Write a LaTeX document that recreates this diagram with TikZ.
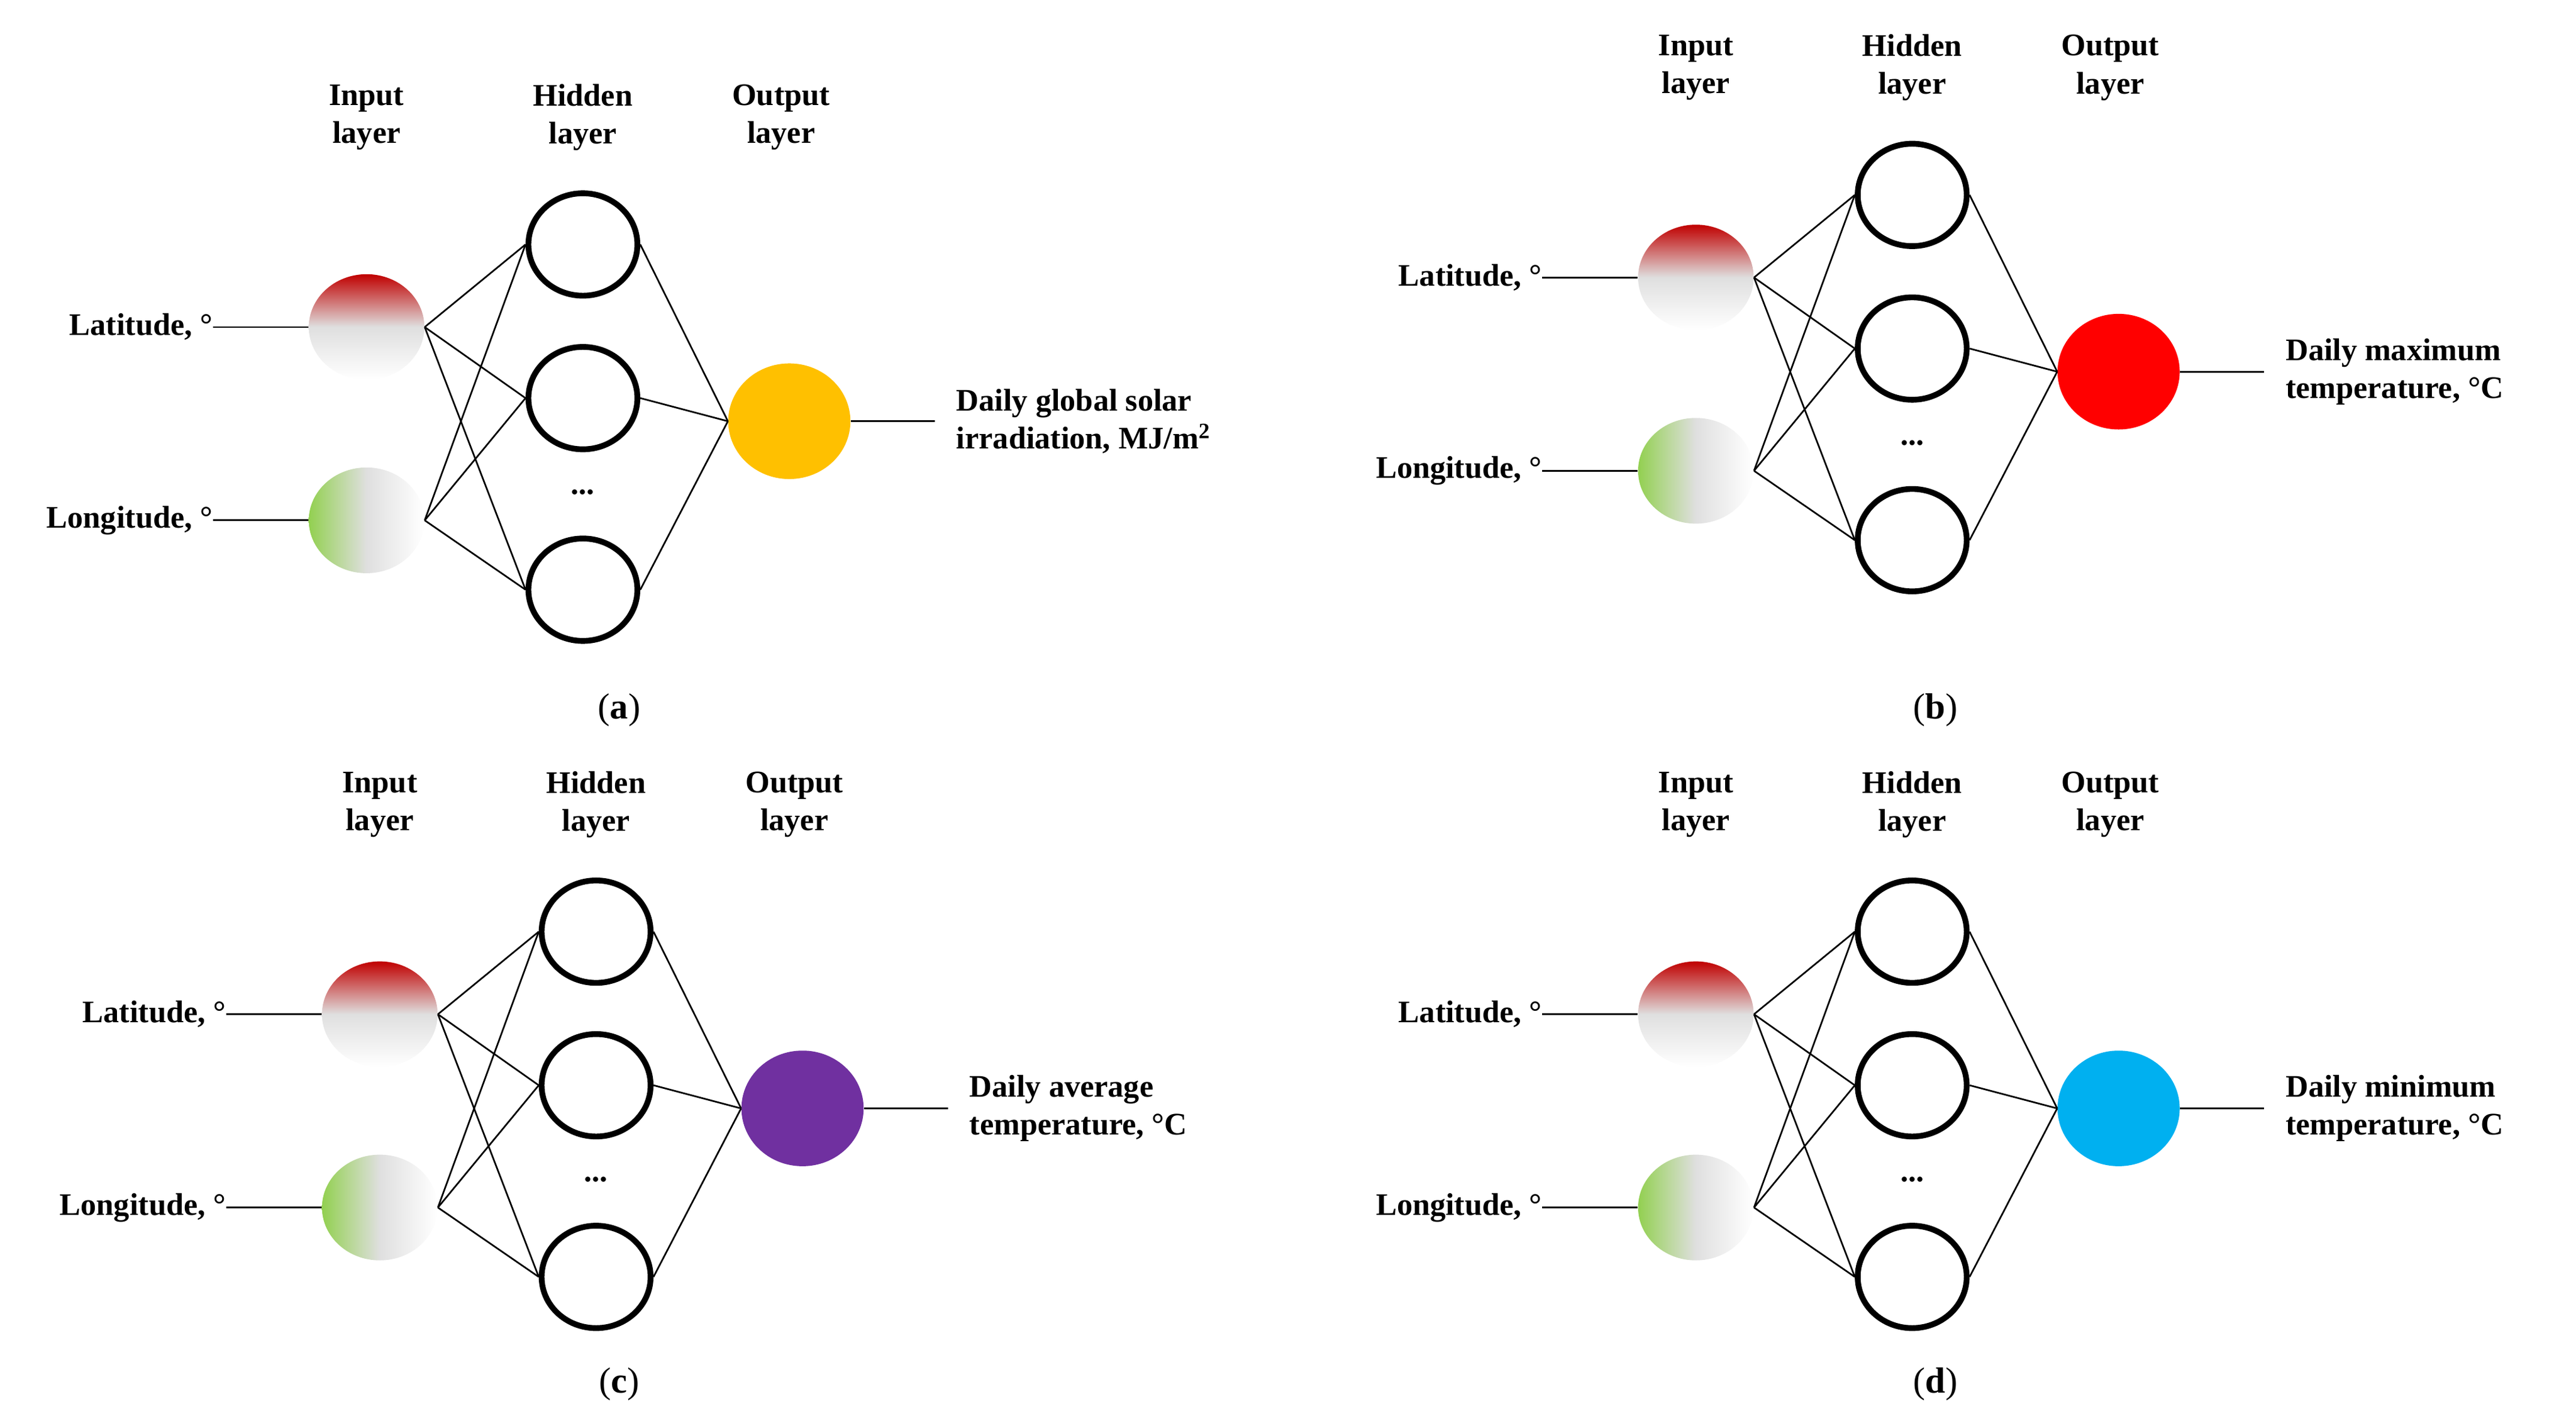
\documentclass[tikz,border=0pt]{standalone}
\usepackage{fontspec}
\setmainfont{Liberation Serif}
\usetikzlibrary{shapes.geometric}
\definecolor{latred}{RGB}{192,0,0}
\definecolor{longreen}{RGB}{146,208,80}
\definecolor{outA}{RGB}{255,192,0}
\definecolor{outB}{RGB}{255,0,0}
\definecolor{outC}{RGB}{112,48,160}
\definecolor{outD}{RGB}{0,176,240}
\tikzset{
 lbl/.style={font=\fontsize{19}{23}\selectfont\bfseries},
 head/.style={lbl,align=center},
 inlat/.style={ellipse,inner sep=0,minimum width=70pt,minimum height=64pt,top color=latred,bottom color=white,middle color=gray!25},
 inlon/.style={ellipse,inner sep=0,minimum width=70pt,minimum height=64pt,left color=longreen,right color=white,middle color=gray!25},
 hid/.style={ellipse,draw,line width=3.5pt,inner sep=0,minimum width=66pt,minimum height=62pt},
 outn/.style={ellipse,inner sep=0,minimum width=74pt,minimum height=70pt},
 conn/.style={line width=1pt},
}
% #1 prefix, #2 x, #3 y of latitude node, #4 colour, #5 text, #6 caption x, #7 caption y, #8 caption
\newcommand{\nnpanel}[8]{%
 \node[inlat] (#1lat) at (#2,#3) {};
 \node[inlon] (#1lon) at (#2,#3+117) {};
 \node[hid] (#1h1) at (#2+131,#3-50) {};
 \node[hid] (#1h2) at (#2+131,#3+43) {};
 \node[hid] (#1h3) at (#2+131,#3+159) {};
 \node[lbl] (#1dots) at (#2+131,#3+100) {...};
 \node[outn,fill=#4] (#1out) at (#2+256,#3+57) {};
 \node[head] (#1hi) at (#2,#3-127) {Input\\layer};
 \node[head] (#1hh) at (#2+131,#3-127) {Hidden\\layer};
 \node[head] (#1ho) at (#2+251,#3-127) {Output\\layer};
 \coordinate (#1latend) at (#2-93,#3);
 \coordinate (#1lonend) at (#2-93,#3+117);
 \coordinate (#1outend) at (#2+344,#3+57);
 \node[lbl,anchor=east,inner sep=0] (#1latl) at (#1latend) {Latitude, °};
 \node[lbl,anchor=east,inner sep=0] (#1lonl) at (#1lonend) {Longitude, °};
 \node[lbl,anchor=west,align=left,inner sep=0] (#1outl) at (#2+357,#3+57) {#5};
 \node[font=\fontsize{22}{26}\selectfont] (#1cap) at (#6,#7) {(\textbf{#8})};
 \draw[conn] (#1latend) -- (#1lat.west);
 \draw[conn] (#1lonend) -- (#1lon.west);
 \draw[conn] (#1out.east) -- (#1outend);
 \foreach \i in {lat,lon}{\foreach \j in {h1,h2,h3}{\draw[conn] (#1\i.east) -- (#1\j.west);}}
 \foreach \j in {h1,h2,h3}{\draw[conn] (#1\j.east) -- (#1out.west);}
}
\begin{document}
\begin{tikzpicture}[x=1pt,y=-1pt]
\useasboundingbox (0,0) rectangle (1560,857);
\nnpanel{a}{222}{198}{outA}{Daily global solar\\irradiation, MJ/m\textsuperscript{2}}{375}{430}{a}
\nnpanel{b}{1027}{168}{outB}{Daily maximum\\temperature, °C}{1172}{430}{b}
\nnpanel{c}{230}{614}{outC}{Daily average\\temperature, °C}{375}{838}{c}
\nnpanel{d}{1027}{614}{outD}{Daily minimum\\temperature, °C}{1172}{838}{d}
\end{tikzpicture}
\end{document}
